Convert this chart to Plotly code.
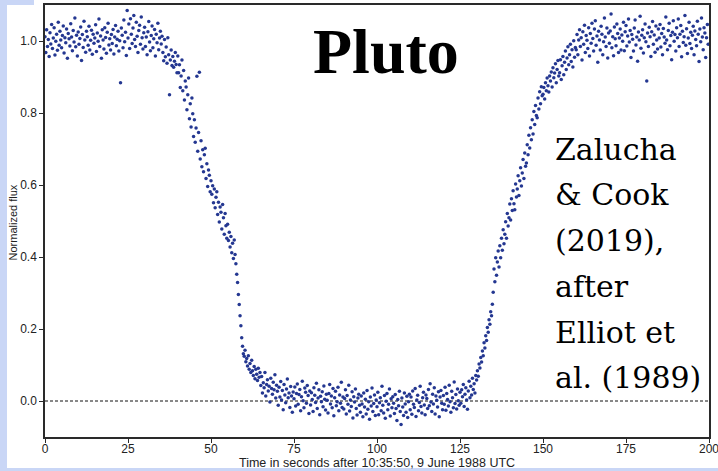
import numpy as np
import plotly.graph_objects as go

# Pluto stellar occultation light curve, KAO 9 June 1988.
SAMPLE_INTERVAL_S = 0.25

# Normalized flux in thousandths, one row per 5 s of data.
pre_occultation = [
    1012, 968, 1031, 985, 1004, 957, 1023, 992, 1046, 979, 1008, 1037, 961, 999, 1019, 974, 1052, 988, 1027, 1003,
    981, 1015, 1042, 967, 1009, 995, 1033, 952, 1021, 1006, 986, 1048, 1011, 973, 1029, 997, 1064, 984, 1016, 958,
    1025, 991, 1007, 1039, 946, 1018, 982, 1055, 1003, 969, 1027, 1012, 988, 1041, 975, 1002, 1030, 963, 1019, 994,
    1008, 1045, 971, 1022, 999, 1061, 985, 1014, 952, 1031, 1003, 978, 1037, 1010, 966, 1024, 1049, 989, 1006, 975,
    1018, 993, 1032, 964, 1011, 1043, 987, 1005, 1027, 972, 1001, 884, 1036, 1016, 981, 1058, 998, 1024, 960, 1085,
    1008, 1047, 979, 1062, 1019, 993, 1036, 1071, 1004, 985, 1052, 1013, 968, 1029, 1044, 991, 1067, 1009, 978, 1023,
    1038, 985, 1011, 962, 1026, 1054, 997, 973, 1015, 1042, 981, 1006, 1032, 958, 1019, 995, 1049, 976, 1008, 1027,
    992, 1013, 968, 945, 1004, 956, 983, 938, 1009, 962, 851, 947, 975, 932, 957, 927, 944, 968, 935, 912,
]
ingress = [
    958, 912, 934, 871, 903, 947, 862, 918, 836, 889, 872, 809, 851, 897, 784, 826, 761, 842, 798, 735,
    781, 719, 758, 902, 694, 746, 913, 672, 723, 651, 698, 637, 684, 702, 618, 659, 596, 642, 627, 581,
    612, 574, 598, 551, 589, 537, 566, 581, 518, 552, 497, 539, 524, 478, 546, 509, 463, 521, 487, 452,
    491, 446, 469, 428, 457, 412, 438, 396, 447, 407, 381, 352, 329, 296, 268, 237, 209, 176, 152, 131,
    124, 141, 109, 118, 97, 126, 88, 104, 79, 113, 84, 71, 96, 62, 88, 74, 57, 91, 66, 79,
]
occulted = [
    43, 68, 22, 51, 37, 79, 14, 46, 59, 28, 41, -3, 63, 35, 19, 52, 31, 73, 8, 44,
    27, -12, 38, 11, 54, 3, 29, -24, 46, 17, -5, 33, 61, 9, 22, -18, 40, 14, -31, 25,
    6, 39, -14, 21, 47, -9, 18, 32, -27, 12, 55, 1, -19, 36, 24, -6, 43, 15, -35, 28,
    -11, 23, 4, -29, 37, 16, -4, 49, -21, 8, 31, -38, 13, -2, 26, -16, 42, 5, -25, 19,
    2, -33, 21, 46, -8, 14, -19, 35, -41, 9, 27, -13, -2, 38, -27, 17, -6, 52, -18, 11,
    -22, 7, 31, -36, 15, -9, 44, -28, 3, -15, 26, -47, 12, -3, 33, -21, -39, 8, 19, -12,
    -31, 14, -8, -44, 22, -17, 5, -36, 29, -23, -2, -51, 11, -14, 36, -29, -7, 17, -40, 3,
    -16, 24, -38, -5, 9, -27, 41, -12, -33, 15, -48, -1, 21, -24, -9, 33, -42, 6, -19, 12,
    -6, -35, 18, -21, -54, 4, -13, 27, -29, -65, 8, -17, -40, 22, -8, -31, 13, -46, -2, 19,
    -24, 11, -37, 28, -9, -18, 35, -43, 3, 16, -27, -4, 41, -15, -33, 9, 24, -11, -38, 17,
    7, -21, 32, -13, 48, -3, -29, 19, -8, 37, -36, 14, 2, -17, 26, -44, 11, 29, -6, -24,
    15, -9, 38, -26, 21, 4, -14, 44, -2, -31, 27, 9, -19, 53, -7, 18, -22, 33, 1, -12,
    24, -6, 31, 12, 46, -15, 19, 37, 3, -23, 28, 55, 9, 41, 17, 63, 32, 48, 22, 71,
]
egress = [
    58, 84, 69, 103, 92, 121, 108, 139, 126, 162, 147, 181, 168, 204, 191, 226, 213, 248, 237, 269,
    302, 367, 331, 398, 349, 386, 417, 372, 431, 398, 452, 419, 476, 437, 463, 498, 452, 521, 486, 509,
    547, 503, 562, 529, 584, 548, 531, 603, 567, 589, 626, 571, 612, 648, 597, 633, 671, 618, 689, 652,
    661, 712, 684, 738, 703, 759, 726, 781, 742, 804, 768, 821, 793, 787, 842, 811, 859, 826, 873, 848,
    852, 871, 839, 884, 862, 897, 876, 858, 903, 889, 914, 872, 926, 898, 911, 937, 884, 921, 946, 903,
    912, 948, 893, 931, 957, 906, 941, 972, 921, 953, 984, 934, 962, 991, 943, 976, 928, 1001, 955, 982,
]
post_occultation = [
    976, 1018, 962, 1003, 1031, 985, 1009, 947, 1026, 991, 1044, 968, 1015, 1002, 979, 1037, 958, 1021, 994, 1049,
    1007, 972, 1033, 1056, 988, 1014, 941, 1027, 1003, 975, 1041, 1019, 962, 998, 1064, 1011, 985, 1036, 953, 1022,
    994, 1028, 1075, 981, 1012, 959, 1039, 1006, 987, 1047, 1021, 968, 1008, 1033, 975, 1017, 999, 1052, 973, 1026,
    1043, 986, 1014, 1061, 997, 1029, 954, 1018, 1005, 972, 1036, 1058, 989, 1011, 944, 1025, 1003, 1069, 980, 1016,
    1031, 967, 1009, 1047, 998, 889, 1022, 985, 1038, 1012, 957, 1026, 1054, 991, 1017, 969, 1042, 1003, 978, 1033,
    1008, 1046, 983, 1021, 962, 1035, 1011, 994, 1067, 1003, 976, 1029, 1049, 987, 1015, 948, 1024, 1056, 999, 1018,
    972, 1037, 1009, 1061, 985, 1019, 1043, 956, 1027, 996, 1012, 1071, 988, 1034, 965, 1008, 1052, 993, 1024, 979,
    1016, 1041, 962, 1028, 1004, 987, 1055, 1019, 943, 1033, 998, 1064, 1011, 976, 1037, 1022, 954, 1009, 1046, 991,
]

x_ticks = [0, 25, 50, 75, 100, 125, 150, 175, 200]
y_ticks = [0.0, 0.2, 0.4, 0.6, 0.8, 1.0]
zero_level = 0.0

title_text = "Pluto"
credit_lines = ["Zalucha", "&amp; Cook", "(2019),", "after", "Elliot et", "al. (1989)"]
x_title = "Time in seconds after 10:35:50, 9 June 1988 UTC"
y_title = "Normalized flux"

flux = np.array(pre_occultation + ingress + occulted + egress + post_occultation) / 1000.0
time_s = np.arange(flux.size) * SAMPLE_INTERVAL_S

# page geometry (pixels)
W, H = 718, 471
ML, MR, MT, MB = 45, 9, 5, 34
PW, PH = W - ML - MR, H - MT - MB
LAVENDER = "#c9d6f6"
INK = "#2a2a2a"
DOT = "#243791"


def px(x):
    return (x - ML) / PW


def py(y):
    return (H - MB - y) / PH


fig = go.Figure()
fig.add_trace(go.Scatter(
    x=time_s, y=flux, mode="markers",
    marker=dict(size=3.5, color=DOT, line=dict(width=0)),
    hoverinfo="skip", showlegend=False,
))

shapes = [
    # dotted zero-flux reference
    dict(type="line", xref="paper", yref="y", x0=0, x1=1, y0=zero_level, y1=zero_level,
         line=dict(color="#111111", width=1, dash="3px,2px"), layer="below"),
    # slide background around the figure
    dict(type="rect", xref="paper", yref="paper", x0=px(0), x1=px(7), y0=py(H), y1=py(0),
         fillcolor=LAVENDER, line=dict(width=0), layer="below"),
    dict(type="rect", xref="paper", yref="paper", x0=px(0), x1=px(W), y0=py(H), y1=py(468),
         fillcolor=LAVENDER, line=dict(width=0), layer="below"),
    dict(type="rect", xref="paper", yref="paper", x0=px(0), x1=px(34), y0=py(5), y1=py(0),
         fillcolor=LAVENDER, line=dict(width=0), layer="below"),
]

annotations = [
    dict(text=title_text, xref="paper", yref="paper", x=px(386.5), y=py(52),
         xanchor="center", yanchor="middle", showarrow=False,
         font=dict(family="Liberation Serif", size=64, color="black", weight="bold")),
    dict(text=x_title, xref="paper", yref="paper", x=px(376.7), y=py(463),
         xanchor="center", yanchor="middle", showarrow=False,
         font=dict(family="Liberation Sans", size=12.5, color="#222222")),
    dict(text=y_title, xref="paper", yref="paper", x=px(12.5), y=py(223),
         xanchor="center", yanchor="middle", showarrow=False, textangle=-90,
         font=dict(family="Liberation Sans", size=11, color="#222222")),
]
baselines = [160, 205, 251, 297, 343, 388]
for line, base in zip(credit_lines, baselines):
    annotations.append(dict(
        text=line, xref="paper", yref="paper", x=px(553), y=py(base - 10.5),
        xanchor="left", yanchor="middle", showarrow=False,
        font=dict(family="DejaVu Serif", size=30, color="black")))

axis_common = dict(
    showline=True, mirror=True, linecolor=INK, linewidth=1.5,
    ticks="outside", ticklen=4, tickwidth=1, tickcolor=INK,
    showgrid=False, zeroline=False,
    tickfont=dict(family="Liberation Sans", size=12, color="#222222"),
)

fig.update_layout(
    width=W, height=H,
    margin=dict(l=ML, r=MR, t=MT, b=MB, autoexpand=False),
    paper_bgcolor="white", plot_bgcolor="white",
    xaxis=dict(range=[0, 200], tickvals=x_ticks, ticklabelstandoff=-4,
               ticklabeloverflow="allow", **axis_common),
    yaxis=dict(range=[-0.1, 1.1], tickvals=y_ticks, tickformat=".1f", **axis_common),
    shapes=shapes, annotations=annotations,
)

fig.write_html("out.html")
